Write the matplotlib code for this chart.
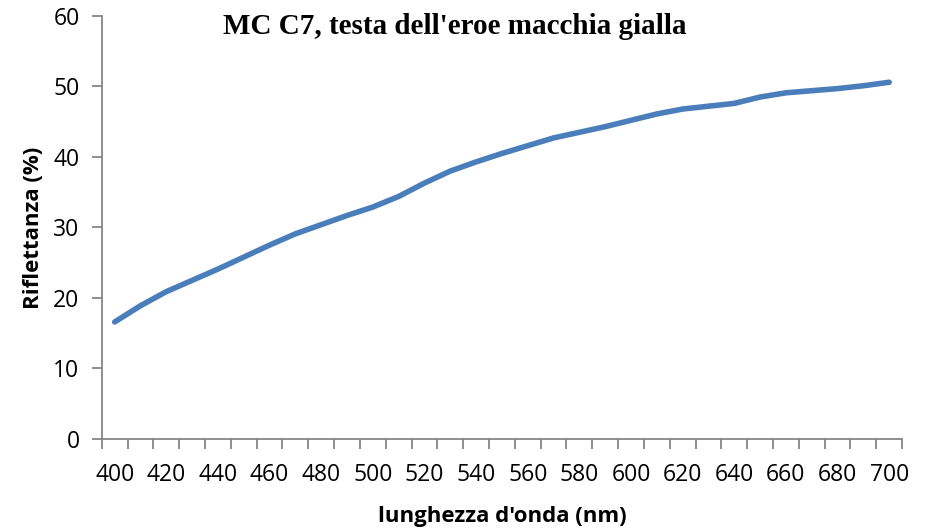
import matplotlib
matplotlib.use('agg')

from matplotlib import pyplot as plt
import numpy as np

# wavelength (nm) and reflectance (%)
wavelength = [400, 410, 420, 430, 440, 450, 460, 470, 480, 490,
              500, 510, 520, 530, 540, 550, 560, 570, 580, 590,
              600, 610, 620, 630, 640, 650, 660, 670, 680, 690, 700]
reflectance = [16.6, 18.9, 20.9, 22.5, 24.1, 25.8, 27.5, 29.1, 30.4, 31.7,
               32.9, 34.4, 36.3, 38.0, 39.3, 40.5, 41.6, 42.7, 43.5, 44.3,
               45.2, 46.1, 46.8, 47.2, 47.6, 48.5, 49.1, 49.4, 49.7, 50.1, 50.6]
x_labels = [str(w) for w in range(400, 701, 20)]
y_ticks = [0, 10, 20, 30, 40, 50, 60]

title = "MC C7, testa dell'eroe macchia gialla"
axis_color = '#868686'

fig = plt.figure(figsize=(9.3, 5.32), dpi=100)
ax = fig.add_axes([0.1094, 0.1748, 0.8606, 0.7952])

ax.plot(wavelength, reflectance, color='#4A7EBB', linewidth=4,
        solid_capstyle='round', solid_joinstyle='round')

ax.set_xlim(wavelength[0] - 5, wavelength[-1] + 5)
ax.set_ylim(y_ticks[0], y_ticks[-1])

# category-style axis: marks between categories, labels every other category
ax.set_xticks(np.arange(wavelength[0] - 5, wavelength[-1] + 6, 10), minor=True)
ax.set_xticks([int(s) for s in x_labels])
ax.set_xticklabels(x_labels, family='Open Sans', fontsize=16.5)
ax.tick_params(axis='x', which='major', length=0, pad=17)
ax.tick_params(axis='x', which='minor', length=7, width=1.3, color=axis_color)

ax.set_yticks(y_ticks)
ax.set_yticklabels([str(v) for v in y_ticks], family='Open Sans', fontsize=16.5)
ax.tick_params(axis='y', length=7, width=1.3, color=axis_color, pad=9)

for side in ['top', 'right']:
    ax.spines[side].set_visible(False)
for side in ['left', 'bottom']:
    ax.spines[side].set_color(axis_color)
    ax.spines[side].set_linewidth(1.3)

ax.set_xlabel("lunghezza d'onda (nm)", family='Open Sans', fontweight='bold',
              fontsize=16, labelpad=14)
ax.set_ylabel("Riflettanza (%)", family='Open Sans', fontweight='bold',
              fontsize=16, labelpad=7)

fig.text(0.489, 0.95, title, family='Liberation Serif', fontweight='bold',
         fontsize=21, ha='center', va='center')

fig.savefig('out.png', dpi=100)
